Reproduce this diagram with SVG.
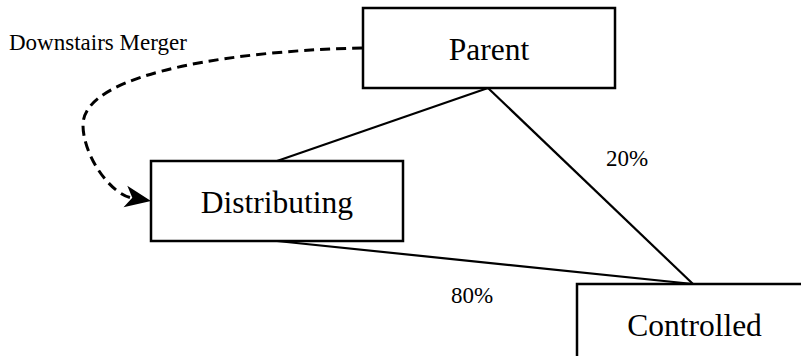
<svg xmlns="http://www.w3.org/2000/svg" width="801" height="356" viewBox="0 0 801 356">
  <style>
    .box { fill: #ffffff; stroke: #000000; stroke-width: 2.5; }
    .name { font-family: "Liberation Serif", "Times New Roman", serif; font-size: 31.5px; fill: #000000; text-anchor: middle; }
    .label { font-family: "Liberation Serif", "Times New Roman", serif; font-size: 23px; fill: #000000; }
    .link { fill: none; stroke: #000000; stroke-width: 2.2; }
    .merge { fill: none; stroke: #000000; stroke-width: 3; stroke-dasharray: 10 6; }
  </style>
  <rect width="801" height="356" fill="#ffffff"/>

  <!-- connectors -->
  <g id="connectors">
    <line class="link" x1="488" y1="88" x2="277" y2="161"/>
    <line class="link" x1="488" y1="88" x2="693" y2="284"/>
    <line class="link" x1="277" y1="241" x2="693" y2="284"/>
    <path class="merge" d="M362,48 C250,50 83,70 83,125 C83,155 110,194 132,198"/>
    <polygon points="151,201 127.3,185.7 132.3,197.7 123.5,207.3" fill="#000000"/>
    <text class="label" x="9" y="50">Downstairs Merger</text>
    <text class="label" x="606" y="166">20%</text>
    <text class="label" x="451" y="303">80%</text>
  </g>

  <g id="parent">
    <rect class="box" x="363" y="8" width="252" height="80"/>
    <text class="name" x="489" y="60">Parent</text>
  </g>

  <g id="distributing">
    <rect class="box" x="151" y="161" width="252" height="80"/>
    <text class="name" x="277" y="213">Distributing</text>
  </g>

  <g id="controlled">
    <rect class="box" x="577" y="284" width="252" height="80"/>
    <text class="name" x="694.5" y="336">Controlled</text>
  </g>
</svg>
